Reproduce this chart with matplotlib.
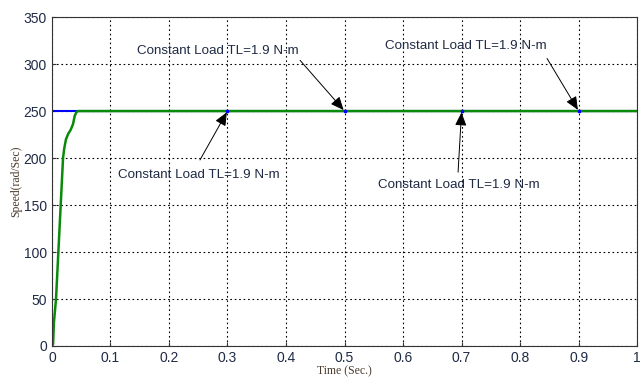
import matplotlib
matplotlib.use("Agg")
import matplotlib.pyplot as plt

# speed response of the drive (rad/s) vs time (s)
t_rise = [0.0, 0.002, 0.0034, 0.007, 0.011, 0.015, 0.019, 0.021, 0.024, 0.028, 0.032, 0.036, 0.039, 0.042, 0.045, 1.0]
w_rise = [0.0, 2.0, 25.0, 50.0, 100.0, 150.0, 200.0, 210.0, 220.0, 226.0, 230.0, 236.0, 245.0, 249.0, 250.0, 250.0]

# reference speed
t_ref = [0.0, 1.0]
w_ref = [250.0, 250.0]

# instants where the load torque is applied
load_times = [0.3, 0.5, 0.7, 0.9]
load_label = "Constant Load TL=1.9 N-m"
# (text x, text y) for each annotation, paired with load_times
text_pos = [(0.113, 182), (0.145, 314), (0.557, 171), (0.569, 319)]
arrow_from = [(0.253, 198), (0.424, 304), (0.694, 185), (0.846, 306)]

fig = plt.figure(figsize=(6.41, 3.80), dpi=100)
ax = fig.add_axes([0.081, 0.0895, 0.913, 0.8655])

ax.plot(t_ref, w_ref, color="blue", lw=1.5)
ax.plot(t_rise, w_rise, color="#0a8a0a", lw=1.8)
ax.plot(load_times, [250] * len(load_times), "s", color="blue", ms=1.8)

for (tx, ty), (ax0, ay0), tl in zip(text_pos, arrow_from, load_times):
    ax.text(tx, ty, load_label, fontsize=9.6, family="Liberation Sans",
            color="#1f2a44", va="center", ha="left")
    ax.annotate("", xy=(tl, 250), xytext=(ax0, ay0),
                arrowprops=dict(arrowstyle="-|>,head_length=0.8,head_width=0.35",
                                color="black", lw=0.7, shrinkA=0, shrinkB=1))

ax.set_xlim(0, 1)
ax.set_ylim(0, 350)
ax.set_xticks([0, 0.1, 0.2, 0.3, 0.4, 0.5, 0.6, 0.7, 0.8, 0.9, 1])
ax.set_xticklabels(["0", "0.1", "0.2", "0.3", "0.4", "0.5", "0.6", "0.7", "0.8", "0.9", "1"])
ax.set_yticks(range(0, 351, 50))
ax.tick_params(direction="in", length=3, labelsize=10, colors="#333333", labelcolor="#1f2a44")
for lbl in ax.get_xticklabels() + ax.get_yticklabels():
    lbl.set_family("Liberation Sans")

ax.grid(True, color="black", linestyle=(0, (1.5, 2.5)), lw=0.8)
for sp in ax.spines.values():
    sp.set_color("#333333")

ax.set_xlabel("Time (Sec.)", fontsize=8.5, family="Liberation Serif", color="#4a3a2a", labelpad=0)
ax.set_ylabel("Speed(rad/Sec)", fontsize=8.5, family="Liberation Serif", color="#4a3a2a", labelpad=1)

fig.savefig("out.png", dpi=100)
